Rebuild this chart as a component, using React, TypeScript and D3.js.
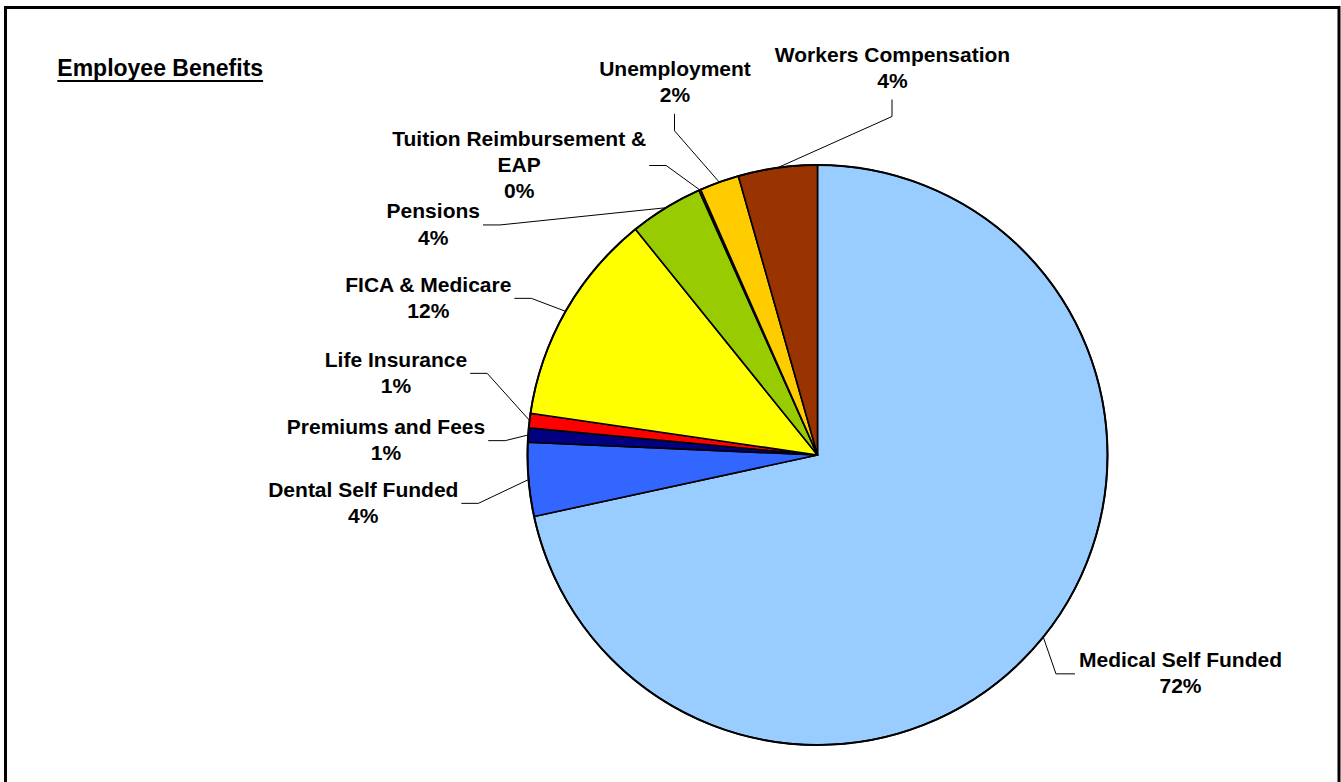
import React, { useEffect, useRef } from "react";
import * as d3 from "d3";

// slices, clockwise from 12 o'clock
const categories = [
  "Medical Self Funded",
  "Dental Self Funded",
  "Premiums and Fees",
  "Life Insurance",
  "FICA & Medicare",
  "Pensions",
  "Tuition Reimbursement & EAP",
  "Unemployment",
  "Workers Compensation",
];
const shares = [71.6, 4.1, 0.8, 0.8, 11.9, 4.1, 0.1, 2.2, 4.4]; // percent of total
const labelLines = [
  ["Medical Self Funded"],
  ["Dental Self Funded"],
  ["Premiums and Fees"],
  ["Life Insurance"],
  ["FICA & Medicare"],
  ["Pensions"],
  ["Tuition Reimbursement &", "EAP"],
  ["Unemployment"],
  ["Workers Compensation"],
];
const colors = [
  "#99CCFF",
  "#3366FF",
  "#000080",
  "#FF0000",
  "#FFFF00",
  "#99CC00",
  "#FFCC99",
  "#FFCC00",
  "#993300",
];

// where each data label sits (center x, first baseline) and which side its leader comes in from
const labelLayout = [
  { x: 1180.5, y: 666.7, side: "right" },
  { x: 363.3, y: 496.7, side: "left" },
  { x: 386, y: 434, side: "left" },
  { x: 396, y: 366.7, side: "left" },
  { x: 428.3, y: 291.7, side: "left" },
  { x: 433.3, y: 218.3, side: "left" },
  { x: 519.2, y: 145.7, side: "left" },
  { x: 675, y: 76, side: "top" },
  { x: 892.5, y: 61.7, side: "top" },
];

const FONT = "'Liberation Sans', Arial, Helvetica, sans-serif";

const App = () => {
  const ref = useRef<SVGSVGElement>(null);

  useEffect(() => {
    const width = 1341;
    const height = 782;
    const cx = 817.5;
    const cy = 455;
    const r = 290;
    const lh = 26.3;

    const svg = d3.select(ref.current);
    svg.selectAll("*").remove();

    svg
      .append("rect")
      .attr("x", 0)
      .attr("y", 0)
      .attr("width", width)
      .attr("height", height)
      .attr("fill", "#fff");

    // chart frame
    svg
      .append("rect")
      .attr("x", 5.5)
      .attr("y", 7.5)
      .attr("width", 1333.5)
      .attr("height", 800)
      .attr("fill", "#fff")
      .attr("stroke", "#000")
      .attr("stroke-width", 3);

    // title
    const title = svg
      .append("text")
      .attr("x", 57.3)
      .attr("y", 76)
      .attr("font-family", FONT)
      .attr("font-weight", "bold")
      .attr("font-size", 23)
      .attr("fill", "#000")
      .text("Employee Benefits");
    const tw = (title.node() as SVGTextElement).getComputedTextLength();
    svg
      .append("line")
      .attr("x1", 57.3)
      .attr("x2", 57.3 + tw)
      .attr("y1", 81)
      .attr("y2", 81)
      .attr("stroke", "#000")
      .attr("stroke-width", 2);

    const pie = d3
      .pie<number>()
      .sort(null)
      .value((d) => d);
    const arcs = pie(shares);
    const arc = d3
      .arc<d3.PieArcDatum<number>>()
      .innerRadius(0)
      .outerRadius(r);
    const edge = d3
      .arc<d3.PieArcDatum<number>>()
      .innerRadius(r)
      .outerRadius(r);

    const g = svg.append("g").attr("transform", `translate(${cx},${cy})`);
    g.selectAll("path")
      .data(arcs)
      .enter()
      .append("path")
      .attr("d", arc)
      .attr("fill", (d, i) => colors[i])
      .attr("stroke", "#000")
      .attr("stroke-width", 1.6)
      .attr("stroke-linejoin", "round");
    g.append("circle")
      .attr("r", r)
      .attr("fill", "none")
      .attr("stroke", "#000")
      .attr("stroke-width", 2);

    const total = d3.sum(shares);
    const pct = (v: number) => `${Math.round((v / total) * 100)}%`;
    const line = d3.line();

    arcs.forEach((a, i) => {
      const lay = labelLayout[i];
      const lines = [...labelLines[i], pct(a.value)];
      const t = svg
        .append("text")
        .attr("text-anchor", "middle")
        .attr("font-family", FONT)
        .attr("font-weight", "bold")
        .attr("font-size", 21)
        .attr("fill", "#000");
      let maxW = 0;
      lines.forEach((s, j) => {
        const sp = t
          .append("tspan")
          .attr("x", lay.x)
          .attr("y", lay.y + j * lh)
          .text(s);
        maxW = Math.max(maxW, (sp.node() as SVGTSpanElement).getComputedTextLength());
      });

      const n = lines.length;
      const mid = lay.y + ((n - 1) * lh) / 2 - 6.5;
      const [ex, ey] = edge.centroid(a);
      const start: [number, number] = [cx + ex, cy + ey];
      let end: [number, number];
      let knee: [number, number];
      if (lay.side === "left") {
        end = [lay.x + maxW / 2 + 3, mid];
        knee = [end[0] + 17, mid];
      } else if (lay.side === "right") {
        end = [lay.x - maxW / 2 - 4, mid + 0.5];
        knee = [end[0] - 19, end[1]];
      } else {
        end = [lay.x - 0.5, lay.y + (n - 1) * lh + 11.5];
        knee = [end[0], end[1] + 17];
      }
      svg
        .append("path")
        .attr("d", line([end, knee, start]))
        .attr("fill", "none")
        .attr("stroke", "#000")
        .attr("stroke-width", 1);
    });
  }, []);

  return (
    <svg
      ref={ref}
      width={1341}
      height={782}
      style={{ position: "absolute", left: 0, top: 0, display: "block" }}
    />
  );
};

export default App;
